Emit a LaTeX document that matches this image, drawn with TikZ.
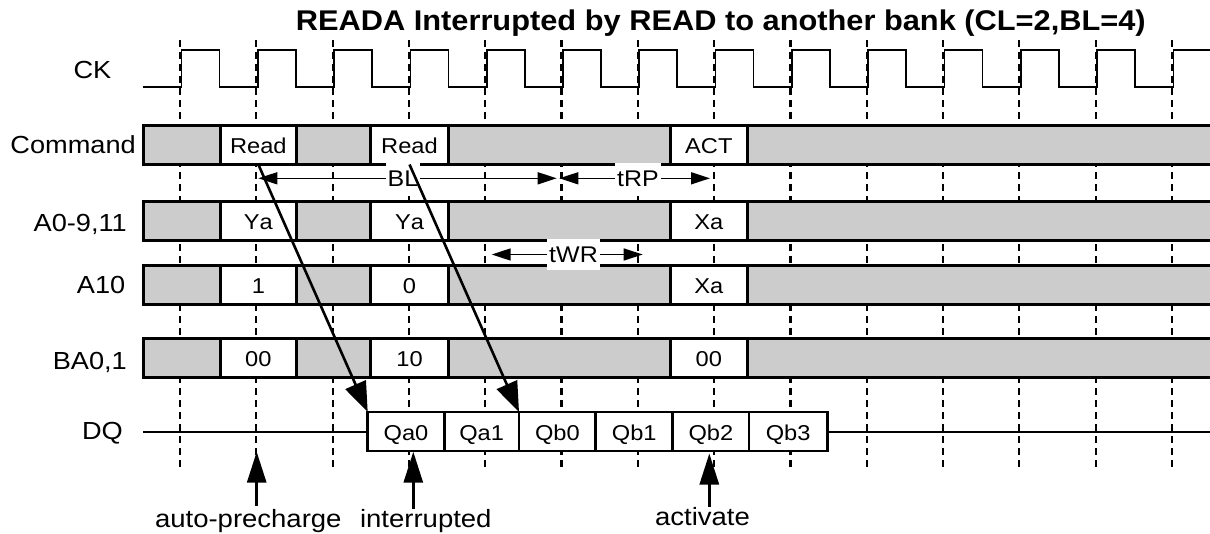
\documentclass[tikz,border=0pt]{standalone}
\usepackage{fontspec}
\setmainfont{Liberation Sans}[FakeStretch=1.1]
\newfontfamily\titlefont{Liberation Sans}[FakeStretch=1.08]
\usetikzlibrary{arrows.meta}
\definecolor{cellgray}{HTML}{CCCCCC}
\newcommand\busrow[5]{%
  \node[cell,fill=cellgray,minimum width=76.7] (#1-1) at (143.3,#2) {};
  \node[cell,fill=white,minimum width=76.7] (#1-2) at (220,#2) {#3};
  \node[cell,fill=cellgray,minimum width=74] (#1-3) at (296.7,#2) {};
  \node[cell,fill=white,minimum width=77.6] (#1-4) at (370.7,#2) {#4};
  \node[cell,fill=cellgray,minimum width=221.7] (#1-5) at (448.3,#2) {};
  \node[cell,fill=white,minimum width=77.7] (#1-6) at (670,#2) {#5};
  \node[cell,fill=cellgray,minimum width=480] (#1-7) at (747.7,#2) {};
}
\begin{document}
\begin{tikzpicture}[x=1pt,y=-1pt,
  cell/.style={draw,line width=3pt,minimum height=39pt,inner sep=0pt,outer sep=0pt,anchor=west,
    text height=17.5pt,text depth=0pt,font=\fontsize{21.5}{24}\selectfont},
  dqbox/.style={draw,fill=white,line width=2.7pt,minimum height=39pt,inner sep=0pt,outer sep=0pt,anchor=west,
    text height=17.5pt,text depth=0pt,font=\fontsize{21.5}{24}\selectfont},
  gridline/.style={line width=2.2pt,dash pattern=on 7pt off 5pt},
  ckline/.style={line width=1.7pt},
  lbl/.style={anchor=base east,inner sep=0pt,font=\fontsize{24.7}{28}\selectfont},
  tlbl/.style={fill=white,inner xsep=2pt,inner ysep=8pt,text height=15.5pt,text depth=0pt,
    font=\fontsize{22.7}{26}\selectfont},
  tarrow/.style={line width=1.5pt,{Triangle[length=19pt,width=12pt]}-{Triangle[length=19pt,width=12pt]}},
  diag/.style={line width=2.6pt,-{Triangle[length=30pt,width=22pt]}},
  uparrow/.style={line width=3pt,-{Triangle[length=31pt,width=19pt]}},
  blbl/.style={anchor=base,inner sep=0pt,font=\fontsize{25}{28}\selectfont}]
\useasboundingbox (0,0) rectangle (1210,533);
% grid lines
\foreach \k in {0,...,13} \draw[gridline] ({180+76.3*\k},40) -- ({180+76.3*\k},468);
% clock
\draw[ckline] (143,87.3) \foreach \k in {0,...,13} { -| ({181.5+76.3*\k},50) -| ({219.5+76.3*\k},87.3) };
% bus rows
\busrow{cmd}{145}{Read}{Read}{ACT}
\busrow{adr}{221}{\addfontfeature{Kerning=Off}Ya}{\addfontfeature{Kerning=Off}Ya}{Xa}
\busrow{a10}{284.5}{1}{0}{Xa}
\busrow{ba}{358}{00}{10}{00}
% DQ
\draw[ckline] (143,432) -- (368,432);
\draw[ckline] (827,432) -- (1215,432);
\node[dqbox,minimum width=76.6] (dq1) at (367.7,431.5) {Qa0};
\node[dqbox,minimum width=74.7] (dq2) at (444.3,431.5) {Qa1};
\node[dqbox,minimum width=76.7] (dq3) at (519,431.5) {Qb0};
\node[dqbox,minimum width=77] (dq4) at (595.7,431.5) {Qb1};
\node[dqbox,minimum width=76.3] (dq5) at (672.7,431.5) {Qb2};
\node[dqbox,minimum width=78.3] (dq6) at (749,431.5) {Qb3};
% labels
\node[anchor=base,inner sep=0pt,font=\fontsize{24.7}{28}\selectfont] (lck) at (92.5,78.3) {CK};
\node[lbl] (lcmd) at (136,153.8) {Command};
\node[lbl] (ladr) at (127,231) {A0-9,11};
\node[lbl] (la10) at (125.5,293.3) {A10};
\node[lbl] (lba) at (127,369.5) {BA0,1};
\node[lbl] (ldq) at (123,439.3) {DQ};
% timing arrows
\coordinate (blL) at (258.3,178.3);
\coordinate (blR) at (556.7,178.3);
\coordinate (rpL) at (559.3,178.3);
\coordinate (rpR) at (710,178.3);
\coordinate (wrL) at (491.7,254.5);
\coordinate (wrR) at (642.7,254.5);
\draw[tarrow] (blL) -- (blR);
\draw[tarrow] (rpL) -- (rpR);
\draw[tarrow] (wrL) -- (wrR);
\node[tlbl] (tbl) at (403,178.3) {BL};
\node[tlbl] (trp) at (638,178.3) {tRP};
\node[tlbl] (twr) at (573.5,254.5) {tWR};
% diagonal arrows
\draw[diag] (cmd-2.south) -- (dq1.north west);
\draw[diag] (cmd-4.south) -- (dq2.north east);
% bottom labels and arrows
\node[blbl] (lapc) at (248.3,527) {auto-precharge};
\node[blbl] (lint) at (425.8,527) {interrupted};
\node[blbl] (lact) at (702.5,525) {activate};
\coordinate (tapc) at (256.7,451.7);
\coordinate (tint) at (413.3,451.7);
\coordinate (tact) at (709.3,453.5);
\draw[uparrow] ([yshift=3pt]lapc.north -| tapc) -- (tapc);
\draw[uparrow] ([yshift=0pt]lint.north -| tint) -- (tint);
\draw[uparrow] ([yshift=0pt]lact.north -| tact) -- (tact);
% title
\node[anchor=base east,inner sep=0pt,font=\titlefont\bfseries\fontsize{28.5}{32}\selectfont] (title) at (1146,30) {READA Interrupted by READ to another bank (CL=2,BL=4)};
\end{tikzpicture}
\end{document}
